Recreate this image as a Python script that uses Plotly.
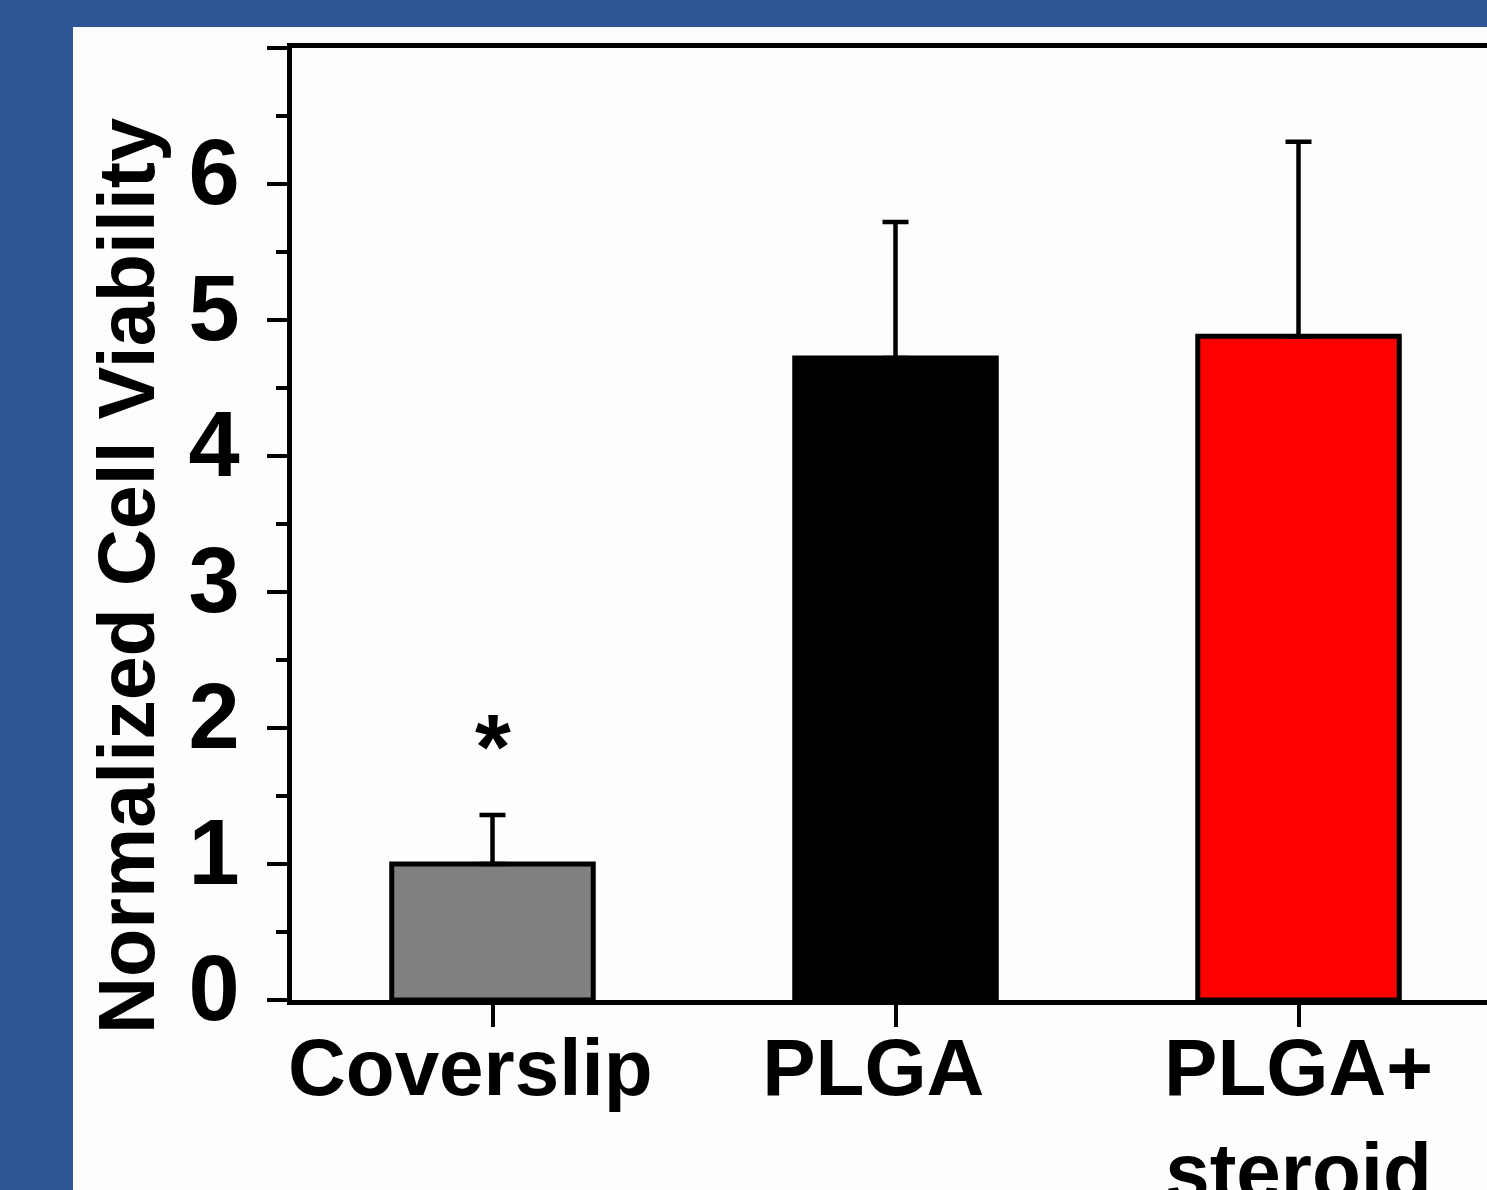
import plotly.graph_objects as go

NB = "\u00a0"
categories = ["Coverslip" + NB * 2, "PLGA" + NB * 2, "PLGA+<br>steroid"]
viability = [1.0, 4.72, 4.88]
errors = [0.36, 1.0, 1.43]
bar_colors = ["#808080", "#000000", "#FF0000"]
y_tickvals = [0, 1, 2, 3, 4, 5, 6, 7]
y_ticktext = ["0", "1", "2", "3", "4", "5", "6", ""]
y_title = "Normalized Cell Viability"
star_label = "*"
star_y = 1.86

FONT = "Liberation Sans, Arial, sans-serif"

W, H = 1487, 1190
L, R, T, B = 292, 0, 48, 190
pw, ph = W - L - R, H - T - B

fig = go.Figure()
fig.add_trace(go.Bar(
    x=categories, y=viability, width=0.5,
    marker=dict(color=bar_colors, line=dict(color="#000000", width=5)),
    error_y=dict(type="data", array=errors, symmetric=False, arrayminus=[0, 0, 0],
                 color="#000000", thickness=4.5, width=13, visible=True),
    showlegend=False,
))

fig.add_annotation(x=categories[0], y=star_y, text="<b>" + star_label + "</b>",
                   showarrow=False, font=dict(family=FONT, size=92, color="#000000"))

# y-axis title placed as rotated text
fig.add_annotation(xref="paper", yref="paper", x=(126 - L) / pw, y=(H - B - 576) / ph,
                   text="<b>" + y_title + "</b>", textangle=-90, showarrow=False,
                   xanchor="center", yanchor="middle",
                   font=dict(family=FONT, size=79, color="#000000"))

# white inner panel (in paper coords, extends into margins)
fig.add_shape(type="rect", xref="paper", yref="paper", layer="below",
              x0=(73 - L) / pw, x1=1.01, y0=-(B + 5) / ph, y1=(H - B - 27) / ph,
              line=dict(width=0), fillcolor="#FDFDFD")

fig.update_layout(
    width=W, height=H,
    margin=dict(l=L, r=R, t=T, b=B, pad=0, autoexpand=False),
    paper_bgcolor="#2F5597",
    plot_bgcolor="#FDFDFD",
    font=dict(family=FONT, color="#000000"),
    bargap=0.5,
)
fig.update_xaxes(
    range=[-0.4975, 2.4677], showline=True, linecolor="#000000", linewidth=5, mirror=True,
    ticks="outside", ticklen=22, tickwidth=4, tickcolor="#000000",
    tickfont=dict(family=FONT, size=80, color="#000000", weight="bold"),
    ticklabelstandoff=-28,
    showgrid=False, zeroline=False, fixedrange=True, automargin=False,
)
fig.update_yaxes(
    range=[0, 7], tickvals=y_tickvals, ticktext=y_ticktext,
    showline=True, linecolor="#000000", linewidth=5, mirror=False,
    ticks="outside", ticklen=20, tickwidth=4, tickcolor="#000000",
    minor=dict(dtick=0.5, ticks="outside", ticklen=11, tickwidth=4, tickcolor="#000000", showgrid=False),
    tickfont=dict(family=FONT, size=92, color="#000000", weight="bold"),
    ticklabelstandoff=9, ticklabelshift=-12,
    showgrid=False, zeroline=False, automargin=False, fixedrange=True,
)

fig.write_html("out.html", config={"displayModeBar": False},
               post_script="document.body.style.margin='0px';document.body.style.overflow='hidden';")
